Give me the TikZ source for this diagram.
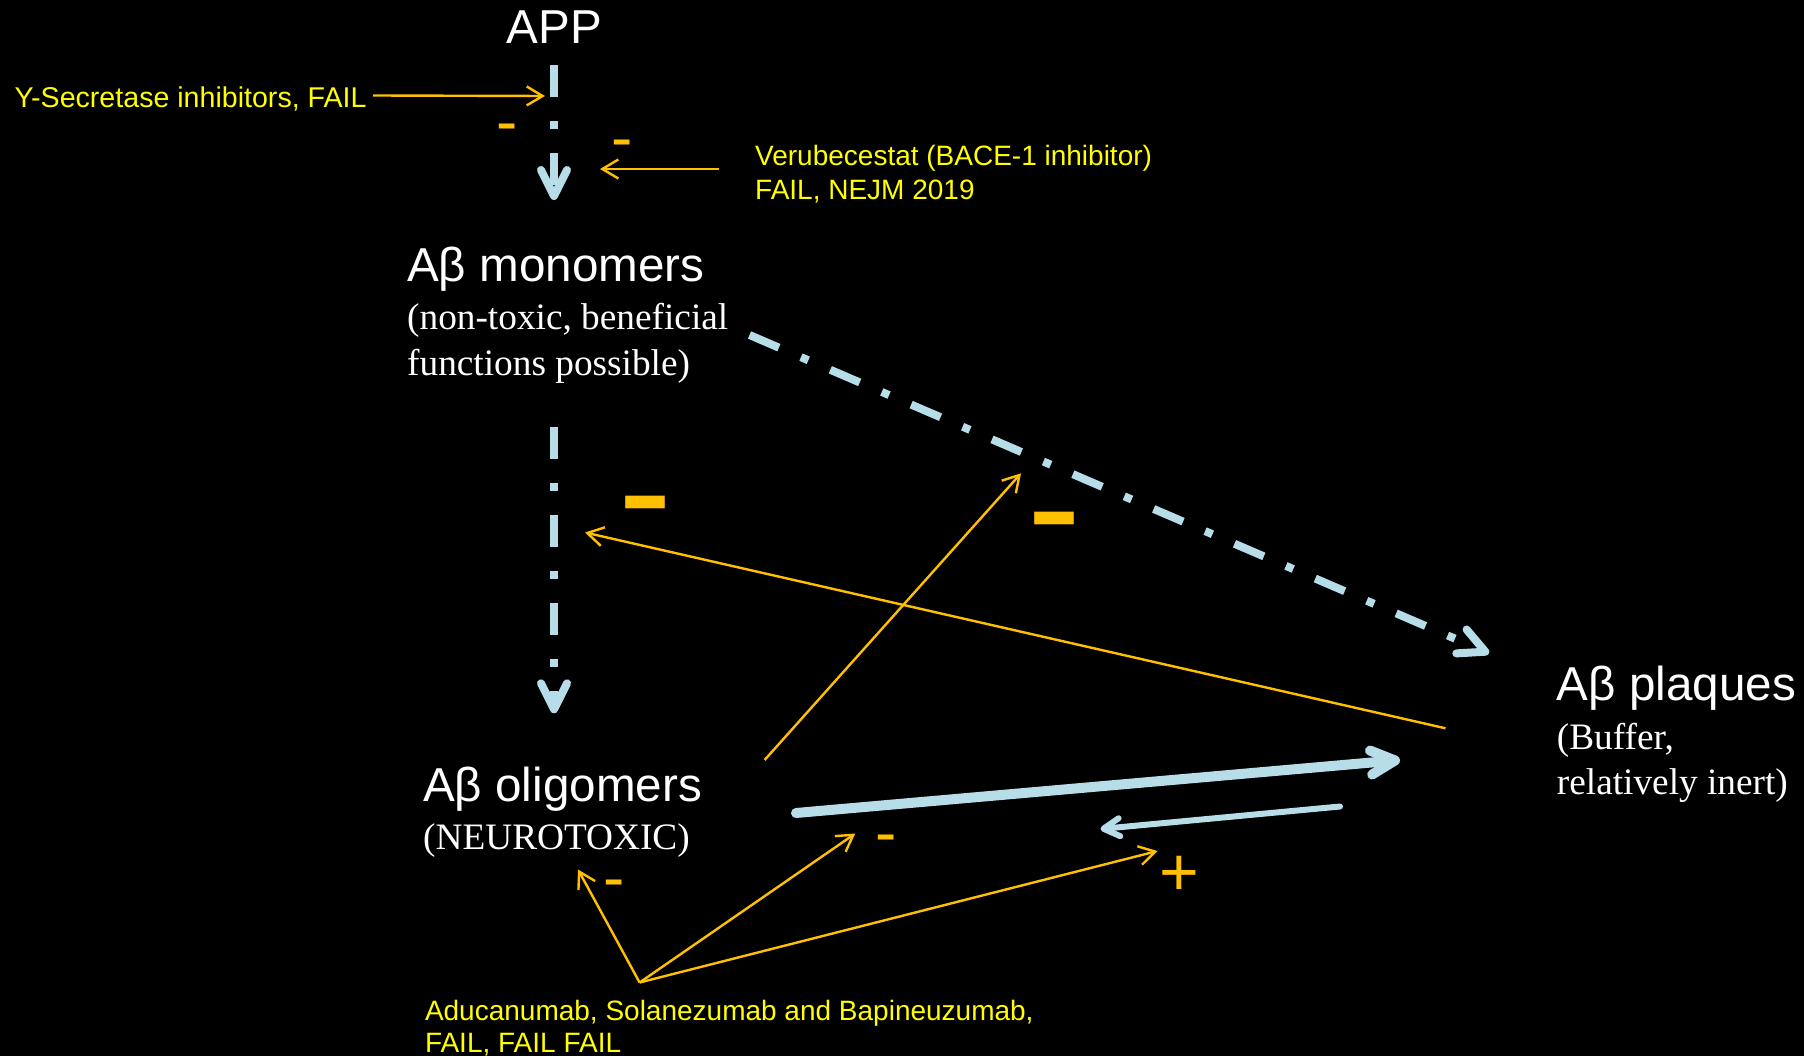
\documentclass[tikz,border=0pt]{standalone}
\usepackage{fontspec}
\setmainfont{Liberation Serif}
\newfontfamily\arialfont{Liberation Sans}
\usetikzlibrary{arrows.meta}

\definecolor{ablue}{RGB}{183,222,232}
\definecolor{aorange}{RGB}{255,192,0}
\definecolor{ayellow}{RGB}{255,255,0}

\tikzset{
  title/.style={text=white, font=\arialfont\fontsize{47.6}{56}\selectfont, inner sep=0pt, anchor=base west},
  desc/.style={text=white, font=\fontsize{37.3}{44}\selectfont, inner sep=0pt, anchor=base west},
  note/.style={text=ayellow, font=\arialfont\fontsize{28}{34}\selectfont, inner sep=0pt, anchor=base west},
  flow/.style={draw=ablue, line width=8pt, line cap=butt,
    dash pattern=on 32pt off 24pt on 8pt off 24pt,
    -{Straight Barb[length=26pt,width=26pt,round]}},
  bond/.style={draw=ablue, line width=10pt, line cap=round,
    -{Straight Barb[length=24pt,width=24pt,round]}},
  release/.style={draw=ablue, line width=6pt, line cap=round,
    -{Straight Barb[length=16pt,width=18pt,round]}},
  drug/.style={draw=aorange, line width=2.4pt,
    -{Straight Barb[length=16pt,width=19pt]}},
  sign/.style={text=aorange, inner sep=0pt, anchor=base},
  smallsign/.style={sign, font=\arialfont\fontsize{64}{64}\selectfont},
  bigsign/.style={sign, font=\arialfont\fontsize{162}{162}\selectfont},
}

\begin{document}
\begin{tikzpicture}[x=1pt, y=-1pt]
  \fill[black] (0,0) rectangle (1804,1056);
  \useasboundingbox (0,0) rectangle (1804,1056);

  % species
  \node[title, anchor=base] (app) at (554.3,43.3) {APP};
  \node[title] (mono) at (407,282) {Aβ monomers};
  \node[desc] (monoA) at (407,329.3) {(non-toxic, beneficial};
  \node[desc] (monoB) at (407,375.3) {functions possible)};
  \node[title] (olig) at (423,801) {Aβ oligomers};
  \node[desc] (oligA) at (423,849.6) {(NEUROTOXIC)};
  \node[title] (plaq) at (1556.7,700.5) {Aβ plaques};
  \node[desc] (plaqA) at (1556.7,749.6) {(Buffer,};
  \node[desc] (plaqB) at (1556.7,794) {relatively inert)};

  % interventions
  \node[note, font=\arialfont\fontsize{28.6}{34}\selectfont] (ysec) at (14.5,108) {Y-Secretase inhibitors, FAIL};
  \node[note] (veruA) at (755,166) {Verubecestat (BACE-1 inhibitor)};
  \node[note] (veruB) at (755,199.5) {FAIL, NEJM 2019};
  \node[note] (aducA) at (424.8,1020) {Aducanumab, Solanezumab and Bapineuzumab,};
  \node[note] (aducB) at (424.8,1052.5) {FAIL, FAIL FAIL};

  % connector ends
  \coordinate (appOut) at (554,65);
  \coordinate (monoIn) at (554,200);
  \coordinate (monoOut) at (554,427.3);
  \coordinate (oligIn) at (554,713.3);
  \coordinate (monoSide) at (749.5,335);
  \coordinate (plaqIn) at (1489,653.3);
  \coordinate (oligOut) at (796,813);
  \coordinate (plaqTo) at (1400,760);
  \coordinate (plaqOut) at (1340,806.5);
  \coordinate (oligBack) at (1100.5,829);

  \coordinate (ysecOut) at (373,95.5);
  \coordinate (ysecHit) at (545,96);
  \coordinate (veruOut) at (719,169);
  \coordinate (veruHit) at (600,169);
  \coordinate (plaqSrc) at (1445.5,728.3);
  \coordinate (oligoHit) at (585,532.5);
  \coordinate (oligSrc) at (764.6,760);
  \coordinate (diagHit) at (1021,473.3);
  \coordinate (aducOut) at (639.6,982.5);
  \coordinate (oligHit) at (578,869.5);
  \coordinate (bondHit) at (855.3,833.5);
  \coordinate (releaseHit) at (1157.5,851);

  % aggregation pathway
  \draw[flow] (appOut) -- (monoIn);
  \draw[flow] (monoOut) -- (oligIn);
  \draw[flow] (monoSide) -- (plaqIn);
  \draw[bond] (oligOut) -- (plaqTo);
  \draw[release] (plaqOut) -- (oligBack);

  % drug effects
  \draw[drug] (ysecOut) -- (ysecHit);
  \draw[drug] (veruOut) -- (veruHit);
  \draw[drug] (plaqSrc) -- (oligoHit);
  \draw[drug] (oligSrc) -- (diagHit);
  \draw[drug] (aducOut) -- (oligHit);
  \draw[drug] (aducOut) -- (bondHit);
  \draw[drug] (aducOut) -- (releaseHit);

  % signs
  \node[smallsign] (s1) at (507.5,144) {-};
  \node[smallsign] (s2) at (622,159.5) {-};
  \node[bigsign] (s3) at (645,545.2) {-};
  \node[bigsign] (s4) at (1054,561.6) {-};
  \node[smallsign] (s5) at (886,854.7) {-};
  \node[smallsign] (s6) at (613.8,899.7) {-};
  \node[sign, font=\arialfont\fontsize{68}{68}\selectfont] (s7) at (1179.3,895.2) {+};
\end{tikzpicture}
\end{document}
